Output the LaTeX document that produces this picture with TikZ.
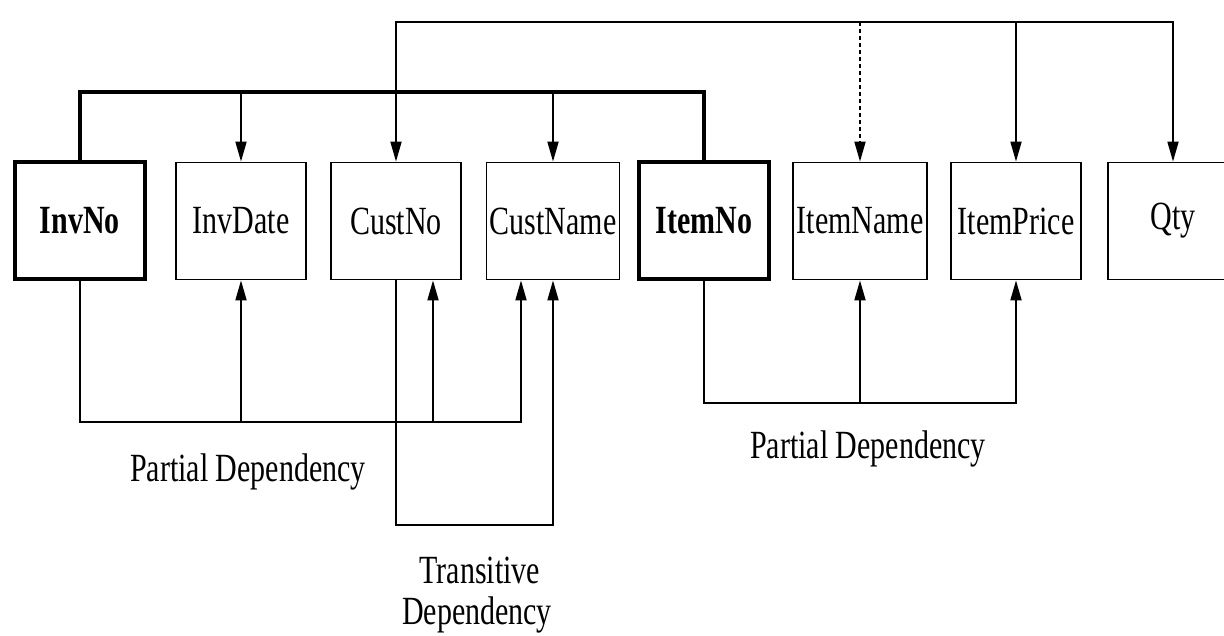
\documentclass[tikz,border=0pt]{standalone}
\usepackage{fontspec}
\setmainfont{Liberation Serif}[FakeStretch=0.75]
\usetikzlibrary{arrows.meta,calc}
\newcommand\attrfont{\fontsize{40}{44}\selectfont}
\newcommand\lblfont{\fontsize{40}{44}\selectfont}
\tikzset{
  attr/.style={draw, line width=1.8pt, minimum width=130pt, minimum height=117pt,
    inner sep=0pt, font=\attrfont},
  keyattr/.style={attr, line width=4pt, font=\attrfont\bfseries},
  conn/.style={line width=1.8pt},
  keyconn/.style={line width=4pt},
  tip/.tip={Triangle[length=20pt,width=11pt]},
  arr/.style={conn, -tip},
  lbl/.style={font=\lblfont, inner sep=0pt, anchor=base}
}
\begin{document}
\begin{tikzpicture}[x=1pt,y=-1pt]
\useasboundingbox (0,0) rectangle (1224,636);
\fill[white] (0,0) rectangle (1224,636);
\clip (0,0) rectangle (1224,636);

% attribute boxes
\node[keyattr] (invno)     at (80,221)   {InvNo};
\node[attr]    (invdate)   at (241,221)  {InvDate};
\node[attr]    (custno)    at (396,221)  {CustNo};
\node[attr, minimum width=133pt] (custname) at (553,221) {CustName};
\node[keyattr] (itemno)    at (704,221)  {ItemNo};
\node[attr, minimum width=134pt] (itemname) at (860,221) {ItemName};
\node[attr]    (itemprice) at (1016,221) {ItemPrice};
\node[attr]    (qty)       at (1173,221) {Qty};

% levels of the connectors
\coordinate (topY)   at (0,22);
\coordinate (thickY) at (0,92);
\coordinate (partL)  at (0,422);
\coordinate (transY) at (0,525);
\coordinate (partR)  at (0,403);
\coordinate (cnR) at ($(custno.south)+(37,0)$);
\coordinate (cmL) at ($(custname.south)+(-32,0)$);

% composite key (thick)
\draw[keyconn] (invno.north) -- (invno.north |- thickY) -- (itemno.north |- thickY) -- (itemno.north);
\draw[arr] (invdate.north |- thickY) -- (invdate.north);
\draw[arr] (custname.north |- thickY) -- (custname.north);

% top line
\draw[conn, tip-tip] (custno.north) -- (custno.north |- topY) -- (qty.north |- topY) -- (qty.north);
\draw[arr, dash pattern=on 4pt off 3pt] (itemname.north |- topY) -- (itemname.north);
\draw[arr] (itemprice.north |- topY) -- (itemprice.north);

% partial dependency (left)
\draw[arr] (invno.south) -- (invno.south |- partL) -| (cmL);
\draw[arr] (invdate.south |- partL) -- (invdate.south);
\draw[arr] (cnR |- partL) -- (cnR);

% transitive dependency
\draw[arr] (custno.south) -- (custno.south |- transY) -| (custname.south);

% partial dependency (right)
\draw[arr] (itemno.south) -- (itemno.south |- partR) -| (itemprice.south);
\draw[arr] (itemname.south |- partR) -- (itemname.south);

% labels
\node[lbl] (lblPL) at (248,481) {Partial Dependency};
\node[lbl] (lblPR) at (868,458) {Partial Dependency};
\node[lbl] (lblT1) at (480,583) {Transitive};
\node[lbl] (lblT2) at (477,624) {Dependency};
\end{tikzpicture}
\end{document}
